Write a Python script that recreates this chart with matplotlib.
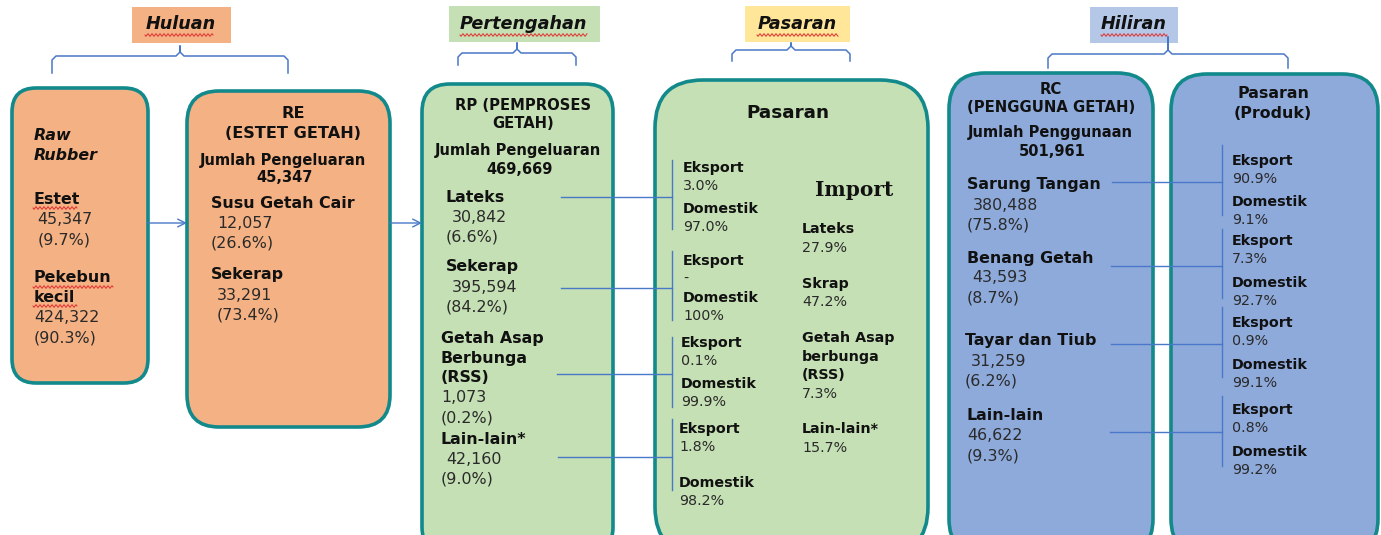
import numpy as np
import matplotlib.pyplot as plt
from matplotlib.patches import FancyBboxPatch, Rectangle

# stage headers
STAGES = ["Huluan", "Pertengahan", "Pasaran", "Hiliran"]

# upstream: raw rubber sources
RAW_SOURCES = ["Estet", "Pekebun\nkecil"]
RAW_OUTPUT = ["45,347", "424,322"]
RAW_SHARE = ["(9.7%)", "(90.3%)"]

# RE (estet getah)
RE_TOTAL = "45,347"
RE_PRODUCTS = ["Susu Getah Cair", "Sekerap"]
RE_OUTPUT = ["12,057", "33,291"]
RE_SHARE = ["(26.6%)", "(73.4%)"]

# RP (pemproses getah)
RP_TOTAL = "469,669"
RP_PRODUCTS = ["Lateks", "Sekerap", "Getah Asap\nBerbunga\n(RSS)", "Lain-lain*"]
RP_OUTPUT = ["30,842", "395,594", "1,073", "42,160"]
RP_SHARE = ["(6.6%)", "(84.2%)", "(0.2%)", "(9.0%)"]
RP_EXPORT = ["3.0%", "-", "0.1%", "1.8%"]
RP_DOMESTIC = ["97.0%", "100%", "99.9%", "98.2%"]

# imports
IMPORT_ITEMS = ["Lateks", "Skrap", "Getah Asap\nberbunga\n(RSS)", "Lain-lain*"]
IMPORT_SHARE = ["27.9%", "47.2%", "7.3%", "15.7%"]

# RC (pengguna getah)
RC_TOTAL = "501,961"
RC_PRODUCTS = ["Sarung Tangan", "Benang Getah", "Tayar dan Tiub", "Lain-lain"]
RC_USAGE = ["380,488", "43,593", "31,259", "46,622"]
RC_SHARE = ["(75.8%)", "(8.7%)", "(6.2%)", "(9.3%)"]
RC_EXPORT = ["90.9%", "7.3%", "0.9%", "0.8%"]
RC_DOMESTIC = ["9.1%", "92.7%", "99.1%", "99.2%"]

INK = "#111111"
NUM = "#2a2a2a"
TEAL = "#12898a"
LINE = "#4a78c8"
ORANGE = "#f4b183"
GREEN = "#c5e0b4"
BLUE = "#8eaadb"
HEAD_FILL = ["#f4b183", "#c5e0b4", "#ffe699", "#b4c7e7"]


def put(ax, x, y, s, size=10.5, bold=False, italic=False, ha="left", color=INK, family="DejaVu Sans"):
    ax.text(x, y, s, fontsize=size, fontweight="bold" if bold else "normal",
            fontstyle="italic" if italic else "normal", ha=ha, va="center",
            color=color, family=family)


def stack(ax, x, y, label, value, share, vx, sx, step=20, size=11.4):
    lines = label.split("\n")
    for i, ln in enumerate(lines):
        put(ax, x, y + i * step, ln, size=size, bold=True)
    n = len(lines)
    put(ax, vx, y + n * step, value, size=size, color=NUM)
    put(ax, sx, y + (n + 1) * step, share, size=size, color=NUM)


def box(ax, x0, y0, x1, y1, fill, r):
    ax.add_patch(FancyBboxPatch((x0, y0), x1 - x0, y1 - y0,
                                boxstyle=f"round,pad=0,rounding_size={r}",
                                fc=fill, ec=TEAL, lw=2.6, zorder=1))


def brace(ax, x0, x1, xc, ytop, ymid, ybot):
    c = 4
    xs = [x0, x0, x0 + c, xc - c, xc, xc, xc, xc + c, x1 - c, x1, x1]
    ys = [ybot, ymid + c, ymid, ymid, ymid - c, ytop, ymid - c, ymid, ymid, ymid + c, ybot]
    ax.plot(xs, ys, color=LINE, lw=1.1, solid_joinstyle="round")


def squiggle(ax, x0, x1, y):
    t = np.linspace(x0, x1, int((x1 - x0) * 3))
    ax.plot(t, y + 1.2 * np.sin((t - x0) * 2 * np.pi / 4), color="#e03030", lw=0.7)


def hook(ax, xa, xb, y, ytop, ybot):
    ax.plot([xa, xb], [y, y], color=LINE, lw=1.0, zorder=3)
    ax.plot([xb, xb], [ytop, ybot], color=LINE, lw=1.0, zorder=3)


def main():
    fig = plt.figure(figsize=(13.81, 5.35), dpi=100)
    ax = fig.add_axes([0, 0, 1, 1])
    ax.set_xlim(0, 1381)
    ax.set_ylim(535, 0)
    ax.axis("off")

    # stage headers and braces
    head_boxes = [(132, 7, 231, 43), (449, 6, 600, 42), (745, 6, 850, 42), (1090, 7, 1178, 43)]
    head_text_x = [181, 523, 797, 1134]
    squig = [(145, 213), (460, 587), (757, 838), (1101, 1167)]
    for name, (x0, y0, x1, y1), tx, (s0, s1), fc in zip(STAGES, head_boxes, head_text_x, squig, HEAD_FILL):
        ax.add_patch(Rectangle((x0, y0), x1 - x0, y1 - y0, fc=fc, ec="none"))
        put(ax, tx, 24, name, size=12.7, bold=True, italic=True, ha="center")
        squiggle(ax, s0, s1, 35)
    brace(ax, 52, 288, 180, 46, 56, 73)
    brace(ax, 458, 576, 517, 43, 53, 65)
    brace(ax, 732, 850, 791, 43, 50, 61)
    brace(ax, 1048, 1288, 1168, 37, 54, 68)

    # boxes
    box(ax, 12, 88, 148, 383, ORANGE, 24)
    box(ax, 187, 91, 390, 427, ORANGE, 32)
    box(ax, 422, 84, 613, 555, GREEN, 28)
    box(ax, 655, 80, 928, 555, GREEN, 48)
    box(ax, 949, 73, 1153, 555, BLUE, 36)
    box(ax, 1171, 74, 1378, 555, BLUE, 36)

    # arrows between upstream boxes
    for xa, xb in [(148, 187), (390, 422)]:
        ax.annotate("", xy=(xb, 223), xytext=(xa, 223),
                    arrowprops=dict(arrowstyle="->", color=LINE, lw=1.0, mutation_scale=14,
                                    shrinkA=0, shrinkB=0))

    # box 1: raw rubber
    put(ax, 34, 136, "Raw", size=11.4, bold=True, italic=True)
    put(ax, 34, 156, "Rubber", size=11.4, bold=True, italic=True)
    for i, (yy, vx, sx) in enumerate([(200, 37, 38), (278, 34, 34)]):
        stack(ax, 34, yy, RAW_SOURCES[i], RAW_OUTPUT[i], RAW_SHARE[i], vx, sx, step=20)
    squiggle(ax, 33, 77, 208)
    squiggle(ax, 33, 113, 287)
    squiggle(ax, 33, 77, 306)

    # box 2: RE
    put(ax, 293, 114, "RE", size=11.6, bold=True, ha="center")
    put(ax, 293, 134, "(ESTET GETAH)", size=11.6, bold=True, ha="center")
    put(ax, 283, 160, "Jumlah Pengeluaran", size=10.5, bold=True, ha="center")
    put(ax, 285, 178, RE_TOTAL, size=10.5, bold=True, ha="center")
    for i, (yy, vx, sx) in enumerate([(203, 217, 211), (275, 217, 217)]):
        stack(ax, 211, yy, RE_PRODUCTS[i], RE_OUTPUT[i], RE_SHARE[i], vx, sx, step=20)

    # box 3: RP
    put(ax, 523, 105, "RP (PEMPROSES", size=10.6, bold=True, ha="center")
    put(ax, 523, 123, "GETAH)", size=10.6, bold=True, ha="center")
    put(ax, 518, 151, "Jumlah Pengeluaran", size=10.5, bold=True, ha="center")
    put(ax, 520, 169, RP_TOTAL, size=10.5, bold=True, ha="center")
    rp_pos = [(446, 197, 452, 446), (446, 267, 452, 446), (441, 338, 441, 441), (441, 439, 446, 441)]
    for i, (x, yy, vx, sx) in enumerate(rp_pos):
        stack(ax, x, yy, RP_PRODUCTS[i], RP_OUTPUT[i], RP_SHARE[i], vx, sx, step=20)

    # box 4: Pasaran (RP market + imports)
    put(ax, 788, 113, "Pasaran", size=13.2, bold=True, ha="center")
    put(ax, 854, 190, "Import", size=14.5, bold=True, ha="center", family="DejaVu Serif")
    links = [(561, 197, 160, 229), (561, 288, 251, 320), (557, 374, 337, 407), (558, 457, 419, 490)]
    exp_y = [168, 261, 343, 429]
    dom_y = [209, 298, 384, 483]
    exp_x = [683, 683, 681, 679]
    for i, (xa, yl, yt, yb) in enumerate(links):
        hook(ax, xa, 672, yl, yt, yb)
        put(ax, exp_x[i], exp_y[i], "Eksport", size=10.3, bold=True)
        put(ax, exp_x[i], exp_y[i] + 18, RP_EXPORT[i], size=10.3, color=NUM)
        put(ax, exp_x[i], dom_y[i], "Domestik", size=10.3, bold=True)
        put(ax, exp_x[i], dom_y[i] + 18, RP_DOMESTIC[i], size=10.3, color=NUM)
    imp_y = [229, 284, 338, 429]
    for i, yy in enumerate(imp_y):
        lines = IMPORT_ITEMS[i].split("\n")
        for j, ln in enumerate(lines):
            put(ax, 802, yy + j * 18.5, ln, size=10.3, bold=True)
        put(ax, 802, yy + len(lines) * 18.5, IMPORT_SHARE[i], size=10.3, color=NUM)

    # box 5: RC
    put(ax, 1051, 90, "RC", size=10.7, bold=True, ha="center")
    put(ax, 1051, 108, "(PENGGUNA GETAH)", size=10.7, bold=True, ha="center")
    put(ax, 1050, 133, "Jumlah Penggunaan", size=10.5, bold=True, ha="center")
    put(ax, 1052, 151, RC_TOTAL, size=10.5, bold=True, ha="center")
    rc_pos = [(967, 185, 973, 967), (967, 258, 972, 967), (965, 341, 971, 965), (967, 416, 967, 967)]
    for i, (x, yy, vx, sx) in enumerate(rc_pos):
        stack(ax, x, yy, RC_PRODUCTS[i], RC_USAGE[i], RC_SHARE[i], vx, sx, step=20)

    # box 6: product market
    put(ax, 1273, 93, "Pasaran", size=11.4, bold=True, ha="center")
    put(ax, 1273, 113, "(Produk)", size=11.4, bold=True, ha="center")
    rc_links = [(1112, 182, 145, 215), (1111, 266, 229, 298), (1111, 344, 307, 377), (1110, 432, 396, 466)]
    exp_y = [161, 241, 323, 410]
    dom_y = [202, 283, 365, 452]
    for i, (xa, yl, yt, yb) in enumerate(rc_links):
        hook(ax, xa, 1222, yl, yt, yb)
        put(ax, 1232, exp_y[i], "Eksport", size=10.3, bold=True)
        put(ax, 1232, exp_y[i] + 18, RC_EXPORT[i], size=10.3, color=NUM)
        put(ax, 1232, dom_y[i], "Domestik", size=10.3, bold=True)
        put(ax, 1232, dom_y[i] + 18, RC_DOMESTIC[i], size=10.3, color=NUM)

    plt.savefig("out.png", dpi=100)


if __name__ == "__main__":
    main()
